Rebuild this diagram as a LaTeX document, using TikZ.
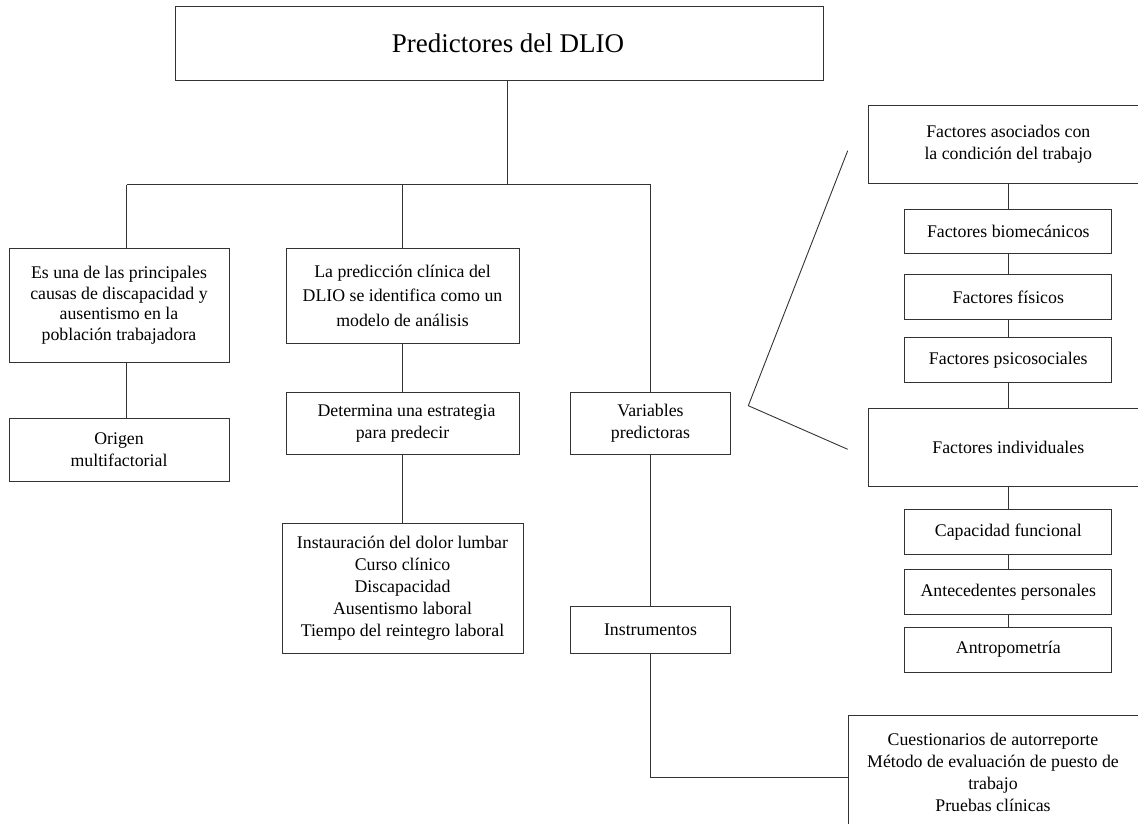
\documentclass[tikz,border=0pt]{standalone}
\usepackage{fontspec}
\setmainfont{Liberation Serif}
\usepackage{tikz}
\usetikzlibrary{positioning}
\definecolor{linegray}{HTML}{333333}

\begin{document}
\begin{tikzpicture}[
  x=1pt, y=-1pt,
  box/.style={rectangle, draw=linegray, line width=0.9pt, align=center, inner sep=0pt, font=\fontsize{17.8}{22}\selectfont},
  smallbox/.style={box, minimum width=207pt, minimum height=44.5pt},
  widebox/.style={box, minimum width=280pt, minimum height=77.5pt},
  lnk/.style={draw=linegray, line width=0.9pt}
]
\useasboundingbox (0,0) rectangle (1138,824);

% Root
\node[box, minimum width=648pt, minimum height=74pt, font=\fontsize{27}{32}\selectfont] (title) at (499,43.7) {\hspace{18pt}Predictores del DLIO};
\coordinate (hub) at (507.7,184.5);
\coordinate (jL) at (126.7,184.5);
\coordinate (jR) at (650.5,184.5);

% Left branch
\node[box, minimum width=220pt, minimum height=114.5pt, font=\fontsize{17.8}{20.5}\selectfont] (causas) at (119,305.2) {Es una de las principales\\ causas de discapacidad y\\ ausentismo en la\\ población trabajadora};
\node[box, minimum width=220pt, minimum height=63pt] (origen) at (119,449.5) {Origen\\ multifactorial};

% Middle branch
\node[box, minimum width=233pt, minimum height=95pt, font=\fontsize{17.8}{24.5}\selectfont] (prediccion) at (402.5,295.5) {La predicción clínica del\\ DLIO se identifica como un\\ modelo de análisis};
\node[box, minimum width=233pt, minimum height=62pt] (determina) at (402.5,423) {\hspace{8pt}Determina una estrategia\\ para predecir};
\node[box, minimum width=241pt, minimum height=130pt] (instauracion) at (402.5,588) {Instauración del dolor lumbar\\ Curso clínico\\ Discapacidad\\ Ausentismo laboral\\ Tiempo del reintegro laboral};

% Right branch
\node[box, minimum width=160pt, minimum height=62pt] (variables) at (650.5,423) {Variables\\ predictoras};
\node[box, minimum width=160pt, minimum height=47pt] (instrumentos) at (650.5,629.5) {Instrumentos};
\node[box, minimum width=292pt, minimum height=123pt, anchor=north west] (cuestionarios) at (847.5,715) {};
\node[font=\fontsize{17.8}{22}\selectfont, align=center] (cuestionariostxt) at (993,772) {Cuestionarios de autorreporte\\ Método de evaluación de puesto de\\ trabajo\\ Pruebas clínicas};

% Factors column
\node[widebox] (asociados) at (1008.3,144.7) {Factores asociados con\\ la condición del trabajo};
\node[smallbox] (biomecanicos) at (1008.3,231.5) {Factores biomecánicos};
\node[smallbox] (fisicos) at (1008.3,297) {Factores físicos};
\node[smallbox] (psicosociales) at (1008.3,360) {Factores psicosociales};
\node[widebox] (individuales) at (1008.3,447.2) {Factores individuales};
\node[smallbox] (capacidad) at (1008.3,531.7) {Capacidad funcional};
\node[smallbox] (antecedentes) at (1008.3,591.8) {Antecedentes personales};
\node[smallbox] (antropometria) at (1008.3,649.7) {Antropometría};

% Bracket
\coordinate (brtop) at (847.7,150.7);
\coordinate (brtip) at (748.3,405.7);
\coordinate (brbot) at (847.7,449.3);

% Connectors
\draw[lnk] (title.south -| hub) -- (hub);
\draw[lnk] (jL) -- (jR);
\draw[lnk] (jL) -- (jL |- causas.north);
\draw[lnk] (prediccion.north |- jL) -- (prediccion.north);
\draw[lnk] (jR) -- (jR |- variables.north);
\draw[lnk] (jL |- causas.south) -- (jL |- origen.north);
\draw[lnk] (prediccion.south) -- (determina.north);
\draw[lnk] (determina.south) -- (instauracion.north);
\draw[lnk] (variables.south) -- (instrumentos.north);
\draw[lnk] (instrumentos.south) |- (cuestionarios.west);
\draw[lnk] (asociados.south) -- (biomecanicos.north);
\draw[lnk] (biomecanicos.south) -- (fisicos.north);
\draw[lnk] (fisicos.south) -- (psicosociales.north);
\draw[lnk] (psicosociales.south) -- (individuales.north);
\draw[lnk] (individuales.south) -- (capacidad.north);
\draw[lnk] (capacidad.south) -- (antecedentes.north);
\draw[lnk] (antecedentes.south) -- (antropometria.north);
\draw[lnk] (brtop) -- (brtip) -- (brbot);

\end{tikzpicture}
\end{document}
